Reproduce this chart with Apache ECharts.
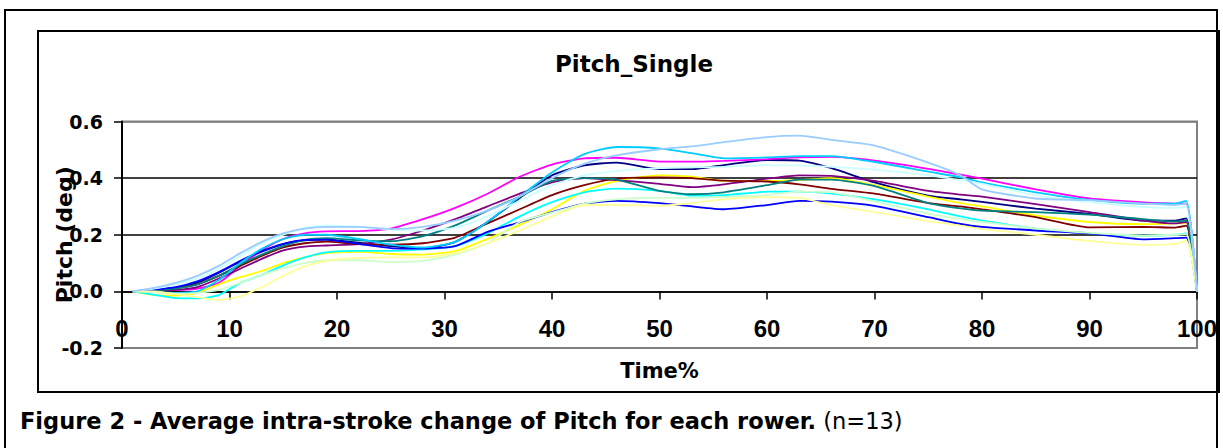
<!DOCTYPE html>
<html>
<head>
<meta charset="utf-8">
<script src="https://cdn.jsdelivr.net/npm/echarts@6/dist/echarts.min.js"></script>
<style>
html,body{margin:0;padding:0;background:#ffffff;}
#chart{width:1223px;height:448px;}
</style>
</head>
<body>
<div id="chart"></div>
<script>
// ---- data (Time %, Pitch in deg) ----
const timePct = [1,3,5,7,9,11,13,15,17,19,22,25,28,31,34,37,40,43,46,50,53,56,60,63,66,70,75,78,80,85,90,95,98,99,100];

const rower1  = [0,0.005,0.012,0.03,0.065,0.105,0.14,0.167,0.18,0.183,0.172,0.16,0.152,0.175,0.245,0.33,0.41,0.445,0.455,0.432,0.432,0.446,0.464,0.462,0.435,0.385,0.338,0.325,0.316,0.292,0.274,0.25,0.25,0.258,0];
const rower2  = [0,0.005,0.005,0.01,0.03,0.09,0.145,0.185,0.205,0.212,0.213,0.222,0.255,0.295,0.345,0.405,0.448,0.47,0.472,0.458,0.458,0.461,0.467,0.473,0.475,0.462,0.433,0.412,0.398,0.36,0.328,0.314,0.31,0.31,0];
const rower3  = [0,-0.013,-0.015,-0.005,0.025,0.05,0.072,0.1,0.12,0.135,0.14,0.132,0.13,0.142,0.185,0.235,0.29,0.355,0.39,0.41,0.405,0.39,0.39,0.393,0.4,0.375,0.335,0.312,0.3,0.268,0.245,0.237,0.24,0.242,0];
const rower4  = [0,-0.012,-0.024,-0.025,-0.013,0.03,0.058,0.092,0.12,0.138,0.143,0.143,0.148,0.16,0.205,0.265,0.315,0.35,0.363,0.355,0.338,0.34,0.352,0.352,0.345,0.325,0.29,0.265,0.25,0.222,0.205,0.197,0.2,0.205,0];
const rower5  = [0,0.003,0.005,0.015,0.045,0.08,0.115,0.145,0.158,0.162,0.167,0.183,0.215,0.255,0.3,0.345,0.385,0.4,0.393,0.38,0.368,0.378,0.398,0.41,0.408,0.39,0.355,0.342,0.335,0.308,0.28,0.25,0.24,0.245,0];
const rower6  = [0,0.005,0.012,0.025,0.055,0.09,0.125,0.155,0.17,0.176,0.167,0.165,0.17,0.19,0.24,0.29,0.34,0.375,0.398,0.403,0.4,0.391,0.388,0.378,0.362,0.345,0.312,0.3,0.29,0.262,0.226,0.228,0.225,0.232,0];
const rower7  = [0,0.004,0.01,0.025,0.055,0.095,0.13,0.16,0.182,0.188,0.18,0.177,0.195,0.233,0.285,0.335,0.39,0.4,0.395,0.355,0.343,0.35,0.375,0.395,0.395,0.372,0.312,0.293,0.285,0.28,0.271,0.255,0.247,0.25,0];
const rower8  = [0,0.006,0.015,0.035,0.068,0.108,0.142,0.168,0.182,0.183,0.168,0.153,0.151,0.16,0.21,0.244,0.28,0.31,0.32,0.312,0.3,0.29,0.305,0.32,0.317,0.302,0.262,0.238,0.228,0.215,0.205,0.184,0.188,0.19,0];
const rower9  = [0,-0.003,-0.005,0.0,0.04,0.1,0.15,0.185,0.2,0.2,0.185,0.165,0.155,0.175,0.245,0.335,0.42,0.485,0.51,0.505,0.488,0.47,0.473,0.478,0.478,0.457,0.423,0.403,0.385,0.35,0.323,0.31,0.31,0.32,0];
const rower10 = [0,0.01,0.025,0.045,0.08,0.125,0.17,0.2,0.225,0.232,0.228,0.218,0.215,0.225,0.265,0.32,0.375,0.41,0.425,0.435,0.438,0.44,0.446,0.445,0.44,0.43,0.41,0.393,0.38,0.34,0.315,0.298,0.295,0.298,0];
const rower11 = [0,-0.003,-0.008,-0.005,0.005,0.03,0.058,0.082,0.1,0.11,0.11,0.103,0.108,0.13,0.17,0.245,0.278,0.31,0.325,0.33,0.33,0.334,0.34,0.352,0.35,0.318,0.275,0.255,0.245,0.222,0.207,0.197,0.2,0.202,0];
const rower12 = [0,0.0,-0.01,-0.02,-0.03,-0.018,0.015,0.055,0.088,0.108,0.118,0.12,0.12,0.135,0.17,0.215,0.265,0.305,0.305,0.302,0.312,0.325,0.333,0.33,0.305,0.28,0.248,0.232,0.22,0.2,0.178,0.164,0.168,0.178,0];
const rower13 = [0,0.012,0.03,0.055,0.09,0.135,0.175,0.205,0.222,0.228,0.228,0.22,0.228,0.25,0.285,0.335,0.4,0.45,0.48,0.502,0.512,0.527,0.545,0.55,0.535,0.515,0.455,0.41,0.36,0.328,0.322,0.31,0.305,0.31,0];

const rowerNames  = ['Rower 1','Rower 2','Rower 3','Rower 4','Rower 5','Rower 6','Rower 7','Rower 8','Rower 9','Rower 10','Rower 11','Rower 12','Rower 13'];
const rowerColors = ['#000080','#FF00FF','#FFFF00','#00FFFF','#800080','#800000','#008080','#0000FF','#00CCFF','#CCFFFF','#CCFFCC','#FFFF99','#99CCFF'];
const rowerData   = [rower1,rower2,rower3,rower4,rower5,rower6,rower7,rower8,rower9,rower10,rower11,rower12,rower13];

const chartTitle = 'Pitch_Single';
const xName = 'Time%';
const yName = 'Pitch (deg)';
const captionBold = 'Figure 2 - Average intra-stroke change of Pitch for each rower.';
const captionNormal = ' (n=13)';

const series = rowerData.map((arr, i) => ({
  name: rowerNames[i],
  type: 'line',
  data: timePct.map((t, j) => [t, arr[j]]),
  showSymbol: false,
  smooth: 0.2,
  lineStyle: { width: 1.8, color: rowerColors[i] },
  itemStyle: { color: rowerColors[i] },
  emphasis: { disabled: true }
}));

const chart = echarts.init(document.getElementById('chart'), null, { renderer: 'svg' });
chart.setOption({
  animation: false,
  backgroundColor: '#ffffff',
  title: {
    text: chartTitle,
    left: 629,
    top: 47,
    textAlign: 'center',
    textStyle: { fontFamily: 'DejaVu Sans', fontWeight: 'bold', fontSize: 23, color: '#000' }
  },
  grid: {
    left: 122, right: 26, top: 121.5, bottom: 100,
    containLabel: false,
    outerBoundsMode: 'none',
    show: true,
    borderColor: '#808080',
    borderWidth: 2,
    backgroundColor: 'transparent'
  },
  xAxis: {
    type: 'value',
    min: 0, max: 100, interval: 10,
    name: xName,
    nameLocation: 'middle',
    nameGap: 12,
    nameMoveOverlap: false,
    nameTextStyle: { fontFamily: 'DejaVu Sans', fontWeight: 'bold', fontSize: 21, color: '#000' },
    axisLine: { onZero: true, lineStyle: { color: '#000', width: 1.5 } },
    axisTick: { show: true, inside: false, length: 8, lineStyle: { color: '#000', width: 1.5 } },
    axisLabel: { margin: -32, fontFamily: 'Liberation Sans', fontWeight: 'bold', fontSize: 24, color: '#000' },
    splitLine: { show: false }
  },
  yAxis: {
    type: 'value',
    min: -0.2, max: 0.6, interval: 0.2,
    name: yName,
    nameLocation: 'middle',
    nameRotate: 90,
    nameGap: 47,
    nameMoveOverlap: false,
    nameTextStyle: { fontFamily: 'DejaVu Sans', fontWeight: 'bold', fontSize: 22, color: '#000' },
    axisLine: { show: true, lineStyle: { color: '#000', width: 2 } },
    axisTick: { show: true, inside: false, length: 8, lineStyle: { color: '#000', width: 1.5 } },
    axisLabel: {
      margin: 19,
      fontFamily: 'DejaVu Sans', fontWeight: 'bold', fontSize: 19, color: '#000',
      formatter: v => v.toFixed(1)
    },
    splitLine: { show: true, lineStyle: { color: ['#808080','#000000','#000000','#000000','#808080'], width: 1.6 } }
  },
  graphic: [
    { type: 'rect', silent: true, z: -1, shape: { x: 5, y: 10, width: 1212, height: 460 }, style: { fill: 'none', stroke: '#000', lineWidth: 2 } },
    { type: 'rect', silent: true, z: -1, shape: { x: 38, y: 31, width: 1181, height: 361 }, style: { fill: 'none', stroke: '#000', lineWidth: 2 } },
    {
      type: 'text', silent: true, x: 20, y: 421,
      style: {
        text: '{b|' + captionBold + '}{n|' + captionNormal + '}',
        verticalAlign: 'middle',
        rich: {
          b: { fontFamily: 'DejaVu Sans', fontWeight: 'bold', fontSize: 22.5, fill: '#000' },
          n: { fontFamily: 'DejaVu Sans', fontWeight: 'normal', fontSize: 22.5, fill: '#000' }
        }
      }
    }
  ],
  series: series
});
</script>
</body>
</html>
